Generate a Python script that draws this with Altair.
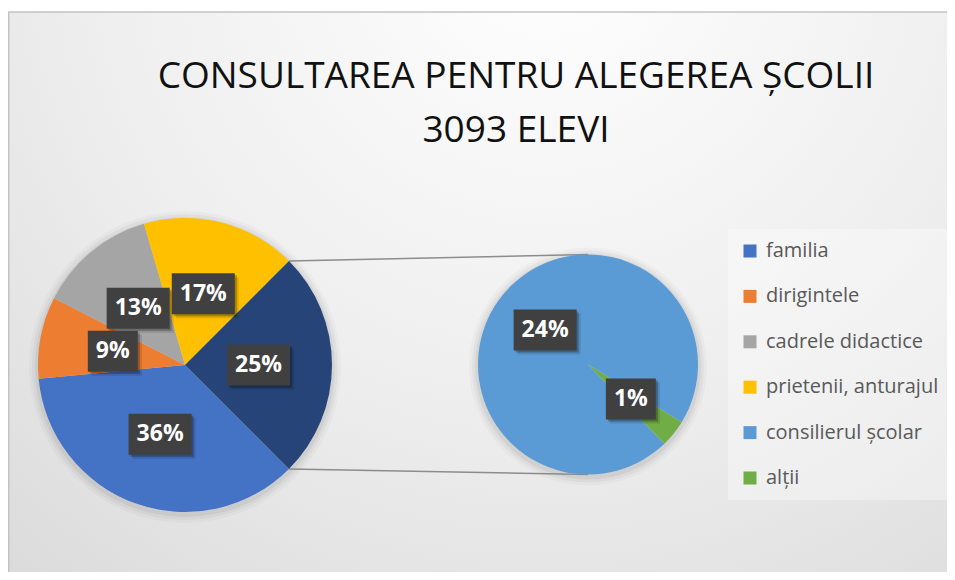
import math
import pandas as pd
import altair as alt

# ---------------- data ----------------
left_cats = ["familia", "dirigintele", "cadrele didactice", "prietenii, anturajul"]
left_vals = [36, 9, 13, 17]
right_cats = ["consilierul școlar", "alții"]
right_vals = [24, 1]
other_cat = "Altele"
cat_colors = ["#4472C4", "#ED7D31", "#A5A5A5", "#FFC000", "#5B9BD5", "#70AD47"]
other_color = "#264478"
title_lines = ["CONSULTAREA PENTRU ALEGEREA ȘCOLII", "3093 ELEVI"]

# ---------------- geometry (style) ----------------
W, H = 939, 564
L_CX, L_CY, L_R = 177, 357, 147
R_CX, R_CY, R_R = 580, 356.5, 110
L_START = 3 * math.pi / 4
R_START = math.radians(136)
FONT = "Open Sans"

legend_cats = left_cats + right_cats
domain = legend_cats + [other_cat]
crange = cat_colors + [other_color]

left_df = pd.DataFrame({
    "cat": left_cats + [other_cat],
    "value": left_vals + [sum(right_vals)],
})
left_df["idx"] = range(len(left_df))
right_df = pd.DataFrame({"cat": right_cats, "value": right_vals})
right_df["idx"] = range(len(right_df))


def label_positions(df, cx, cy, r, start):
    total = df["value"].sum()
    cum = df["value"].cumsum() - df["value"] / 2
    ang = start + 2 * math.pi * cum / total
    out = pd.DataFrame({
        "x": cx + 0.5 * r * ang.apply(math.sin),
        "y": cy - 0.5 * r * ang.apply(math.cos),
        "lab": df["value"].astype(str) + "%",
    })
    out["w"] = out["lab"].str.len() * 13 + 24
    return out


labels_df = pd.concat([
    label_positions(left_df, L_CX, L_CY, L_R, L_START),
    label_positions(right_df, R_CX, R_CY, R_R, R_START),
], ignore_index=True)

# connector lines from the edges of the aggregated slice to the second pie
ltot = left_df["value"].sum()
a0 = L_START + 2 * math.pi * sum(left_vals) / ltot
a1 = a0 + 2 * math.pi * sum(right_vals) / ltot
conn_df = pd.DataFrame({
    "x": [L_CX + L_R * math.sin(a0), L_CX + L_R * math.sin(a1)],
    "y": [L_CY - L_R * math.cos(a0), L_CY - L_R * math.cos(a1)],
    "x2": [R_CX, R_CX],
    "y2": [R_CY - R_R, R_CY + R_R],
})

dummy = pd.DataFrame({"d": [0]})

# ---------------- layers ----------------
bg = alt.Chart(dummy).mark_rect(
    color={
        "gradient": "radial",
        "x1": 0.55, "y1": 0.12, "r1": 0,
        "x2": 0.55, "y2": 0.12, "r2": 0.95,
        "stops": [
            {"offset": 0, "color": "#ffffff"},
            {"offset": 0.5, "color": "#eeeeee"},
            {"offset": 1, "color": "#d6d6d6"},
        ],
    },
    stroke="#c3c3c3", strokeWidth=1.5,
).encode(x=alt.value(0.75), x2=alt.value(W + 40), y=alt.value(4), y2=alt.value(H + 40))

glows = []
for cx, cy, r in [(L_CX, L_CY, L_R), (R_CX, R_CY, R_R)]:
    for dr, op in [(9, 0.025), (6, 0.035), (3, 0.05)]:
        glows.append(
            alt.Chart(dummy).mark_arc(theta=0, theta2=2 * math.pi, radius=r + dr,
                                      color="black", opacity=op)
            .encode(x=alt.value(cx), y=alt.value(cy + 2))
        )

legend = alt.Legend(
    title=None, orient="none", legendX=720, legendY=221, values=legend_cats,
    symbolType="square", symbolSize=169, symbolStrokeWidth=0,
    labelFont=FONT, labelFontSize=20, labelColor="#595959", labelLimit=400,
    rowPadding=25.4, labelOffset=6, padding=12, direction="vertical",
    fillColor="rgba(255,255,255,0.35)",
)
color = alt.Color("cat:N", scale=alt.Scale(domain=domain, range=crange), legend=legend)

left_pie = alt.Chart(left_df).mark_arc(radius=L_R).encode(
    theta=alt.Theta("value:Q", stack=True,
                    scale=alt.Scale(range=[L_START, L_START + 2 * math.pi])),
    order=alt.Order("idx:Q", sort="ascending"),
    color=color,
    x=alt.value(L_CX), y=alt.value(L_CY),
)
right_pie = alt.Chart(right_df).mark_arc(radius=R_R).encode(
    theta=alt.Theta("value:Q", stack=True,
                    scale=alt.Scale(range=[R_START, R_START + 2 * math.pi])),
    order=alt.Order("idx:Q", sort="ascending"),
    color=color,
    x=alt.value(R_CX), y=alt.value(R_CY),
)

conn = alt.Chart(conn_df).mark_rule(color="#8c8c8c", strokeWidth=1.5).encode(
    x=alt.X("x:Q", scale=None), y=alt.Y("y:Q", scale=None),
    x2="x2:Q", y2="y2:Q",
)

box_base = alt.Chart(labels_df)


def box(dx, dy, col, op):
    return box_base.transform_calculate(
        bx0=f"datum.x - datum.w/2 + {dx}", bx1=f"datum.x + datum.w/2 + {dx}",
        by0=f"datum.y - 20.5 + {dy}", by1=f"datum.y + 20.5 + {dy}",
    ).mark_rect(color=col, opacity=op).encode(
        x=alt.X("bx0:Q", scale=None), x2="bx1:Q",
        y=alt.Y("by0:Q", scale=None), y2="by1:Q",
    )


shadow1 = box(4, 4, "black", 0.12)
shadow2 = box(2, 2, "black", 0.25)
boxes = box(0, 0, "#404040", 1)
texts = box_base.mark_text(font=FONT, fontWeight="bold", fontSize=23, color="white",
                           align="center", baseline="middle").encode(
    x=alt.X("x:Q", scale=None), y=alt.Y("y:Q", scale=None), text="lab:N",
)

t1 = alt.Chart(dummy).mark_text(text=title_lines[0], font=FONT, fontSize=37, color="#111111",
                                align="center", baseline="alphabetic").encode(
    x=alt.value(508), y=alt.value(80))
t2 = alt.Chart(dummy).mark_text(text=title_lines[1], font=FONT, fontSize=37, color="#111111",
                                align="center", baseline="alphabetic").encode(
    x=alt.value(508), y=alt.value(134))

chart = alt.layer(
    bg, *glows, conn, left_pie, right_pie, shadow1, shadow2, boxes, texts, t1, t2
).resolve_scale(theta="independent").properties(
    width=W, height=H, padding=0, autosize=alt.AutoSizeParams(type="none"),
).configure_view(stroke=None)

chart.save("out.html", embed_options={"renderer": "svg", "actions": False})
